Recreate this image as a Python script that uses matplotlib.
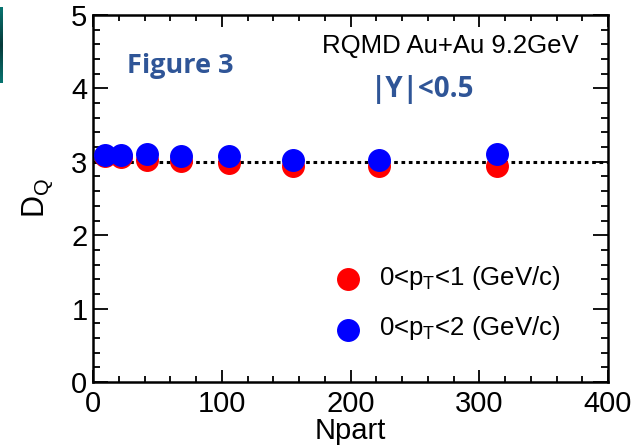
import matplotlib
matplotlib.use("Agg")
import matplotlib.pyplot as plt
import numpy as np
from matplotlib.ticker import MultipleLocator
from matplotlib.colors import LinearSegmentedColormap

plt.rcParams['font.family'] = ['Liberation Sans', 'DejaVu Sans']

npart = [9, 22, 42, 68, 106, 155, 222, 314]
dq_pt1 = [3.08, 3.06, 3.03, 3.01, 2.985, 2.945, 2.94, 2.94]
dq_pt2 = [3.09, 3.09, 3.105, 3.08, 3.08, 3.03, 3.02, 3.10]
ref_level = 3.0
label_pt1 = "0<p$_\\mathregular{T}$<1 (GeV/c)"
label_pt2 = "0<p$_\\mathregular{T}$<2 (GeV/c)"

W, H = 644, 447
X0, X1, YT, YB = 93, 608, 15, 382
fig = plt.figure(figsize=(W/100, H/100), dpi=100)
ax = fig.add_axes([X0/W, 1-YB/H, (X1-X0)/W, (YB-YT)/H])

ax.plot([0, 400], [ref_level, ref_level], color='black', lw=2.2,
        linestyle=(0, (1.2, 1.2)), zorder=1)
ax.plot(npart, dq_pt1, 'o', color='#ff0000', ms=15.5, mec='#ff0000', zorder=2)
ax.plot(npart, dq_pt2, 'o', color='#0000ff', ms=15.5, mec='#0000ff', zorder=3)

ax.set_xlim(0, 400)
ax.set_ylim(0, 5)
ax.xaxis.set_major_locator(MultipleLocator(100))
ax.xaxis.set_minor_locator(MultipleLocator(20))
ax.yaxis.set_major_locator(MultipleLocator(1))
ax.yaxis.set_minor_locator(MultipleLocator(0.2))
ax.tick_params(axis='both', which='both', direction='in', top=True, right=True,
               width=1.3, labelsize=21, color='black')
ax.tick_params(axis='x', which='major', length=8.5, pad=6)
ax.tick_params(axis='x', which='minor', length=4.3)
ax.tick_params(axis='y', which='major', length=11, pad=4)
ax.tick_params(axis='y', which='minor', length=5.3)
for s in ax.spines.values():
    s.set_linewidth(1.8)

ax.set_xlabel('Npart', fontsize=21, labelpad=-1)
ax.set_ylabel('D$_\\mathregular{Q}$', fontsize=22, labelpad=12)

# legend-like entries
xpx = lambda px: (px - X0) / (X1 - X0) * 400
ypx = lambda py: (YB - py) / (YB - YT) * 5
ax.plot([xpx(348)], [ypx(279)], 'o', color='#ff0000', ms=15.5, zorder=4)
ax.plot([xpx(348)], [ypx(330)], 'o', color='#0000ff', ms=15.5, zorder=4)
fig.text(379/W, 1-278/H, label_pt1, fontsize=18.5, va='center', ha='left')
fig.text(379/W, 1-328/H, label_pt2, fontsize=18.5, va='center', ha='left')

fig.text(579/W, 1-46/H, 'RQMD Au+Au 9.2GeV', fontsize=18.5, ha='right', va='center')
fig.text(180/W, 1-66/H, 'Figure 3', fontsize=19.5, fontweight='bold',
         color='#2f5597', family=['Open Sans', 'DejaVu Sans'], ha='center', va='center')
fig.text(423/W, 1-90/H, '|Y|<0.5', fontsize=20, fontweight='bold',
         color='#2f5597', family=['Open Sans', 'DejaVu Sans'], ha='center', va='center')

# teal bar at left edge
bax = fig.add_axes([0, 1-83/H, 3/W, 76/H])
grad = np.concatenate([np.linspace(0, 1, 50), np.linspace(1, 0, 50)]).reshape(-1, 1)
cm = LinearSegmentedColormap.from_list('t', ['#087470', '#063a3a'])
bax.imshow(grad, aspect='auto', cmap=cm)
bax.axis('off')

fig.savefig('out.png', dpi=100)
